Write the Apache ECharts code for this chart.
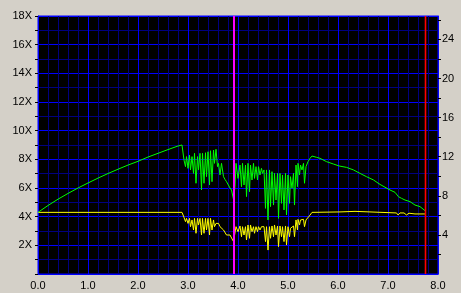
<!DOCTYPE html>
<html><head><meta charset="utf-8">
<script src="https://cdn.jsdelivr.net/npm/echarts@6/dist/echarts.min.js"></script>
<style>html,body{margin:0;padding:0;background:#d4d0c8;}#c{width:461px;height:293px;}</style>
</head><body><div id="c"></div>
<script>
// Position axis (GB) and tick/label values
const xLabelValues = [0, 1, 2, 3, 4, 5, 6, 7, 8];
const leftLabelValues = [2, 4, 6, 8, 10, 12, 14, 16, 18];
const rightLabelValues = [4, 8, 12, 16, 20, 24];
const rightTickValues = [2, 4, 6, 8, 10, 12, 14, 16, 18, 20, 22, 24, 26];
const markerPositions = [3.92, 7.75];
const markerColors = ['#ff00ff', '#ff0000'];
const markerWidths = [2, 1.6];

// Green: read speed (X)
const greenX = [0,0.2,0.4,0.6,0.8,1.0,1.2,1.4,1.6,1.8,2.0,2.2,2.4,2.6,2.8,2.88,
 2.92,2.95,2.97,3.00,3.03,3.05,3.08,3.11,3.13,3.16,3.19,3.21,3.24,3.27,3.29,3.32,3.35,3.37,3.40,3.43,3.45,3.48,3.51,3.53,3.56,3.59,
 3.61,3.64,3.67,3.71,3.74,3.77,3.81,3.84,3.87,3.91,
 3.94,3.96,4.00,4.04,4.07,4.09,4.12,4.15,4.17,4.20,4.23,4.25,4.28,4.31,4.33,4.36,4.39,4.41,4.44,4.47,4.49,4.52,4.55,4.57,4.60,4.63,4.65,4.68,4.71,4.73,4.76,4.79,4.81,4.84,4.87,4.89,4.92,4.95,4.97,5.00,5.03,5.05,5.08,5.11,5.13,5.16,5.19,5.20,5.23,5.25,5.28,5.31,5.33,5.36,5.40,5.44,5.48,
 5.51,5.57,5.64,5.77,5.91,6.03,6.17,6.31,6.44,6.57,6.71,6.84,7.04,7.14,7.21,7.24,7.27,7.34,7.44,7.54,7.64,7.74];
const greenY = [4.30,4.78,5.22,5.62,6.00,6.35,6.69,7.01,7.31,7.60,7.86,8.16,8.42,8.68,8.93,9.00,
 7.95,7.49,8.19,7.37,8.30,7.26,8.19,7.02,8.42,6.33,8.19,7.26,8.42,5.86,8.42,6.33,8.46,6.79,8.53,6.21,8.60,6.44,8.65,7.72,8.70,7.49,
 7.72,6.91,7.72,6.79,6.60,6.44,6.56,6.00,5.86,5.20,
 6.09,7.72,6.67,7.60,6.09,7.72,6.21,7.60,5.40,7.72,5.74,7.60,6.56,7.72,6.67,7.49,6.56,7.49,6.91,7.37,7.02,7.26,4.58,7.26,3.77,7.26,4.70,7.14,4.81,7.02,5.16,7.02,3.88,7.02,4.93,6.91,4.47,7.02,4.12,6.91,4.93,6.79,5.98,7.02,4.81,7.60,6.09,7.72,6.91,7.60,7.26,7.72,6.33,7.49,7.84,8.07,8.23,
 8.23,8.14,8.07,7.84,7.67,7.53,7.44,7.26,7.02,6.79,6.56,6.25,5.86,5.70,5.39,5.51,5.28,5.16,5.05,4.81,4.70,4.42];

// Yellow: second trace (X)
const yellowX = [0,2.88,2.92,2.95,2.97,3.00,3.03,3.05,3.08,3.11,3.13,3.16,3.19,3.21,3.24,3.27,3.29,3.32,3.35,3.37,3.40,3.43,3.45,3.48,3.51,3.53,3.56,3.59,
 3.61,3.64,3.67,3.71,3.74,3.77,3.81,3.84,3.87,3.91,
 3.94,3.96,4.00,4.04,4.07,4.09,4.12,4.15,4.17,4.20,4.23,4.25,4.28,4.31,4.33,4.36,4.39,4.41,4.44,4.47,4.49,4.52,4.55,4.57,4.60,4.63,4.65,4.68,4.71,4.73,4.76,4.79,4.81,4.84,4.87,4.89,4.92,4.95,4.97,5.00,5.03,5.05,5.08,5.11,5.13,5.16,5.19,5.20,5.23,5.25,5.28,5.31,5.33,5.36,5.40,5.44,5.48,
 5.51,6.04,6.05,6.34,6.35,7.17,7.20,7.24,7.28,7.32,7.37,7.42,7.46,7.54,7.74];
const yellowY = [4.30,4.30,3.95,3.65,3.88,3.53,3.88,3.30,3.77,3.07,3.88,2.84,3.88,3.42,3.88,2.72,3.88,2.84,3.88,3.07,3.88,2.72,3.88,3.07,3.77,3.30,3.53,3.42,
 3.53,3.30,3.42,3.07,3.19,2.72,2.84,2.72,2.72,2.26,
 2.37,3.30,2.95,3.35,2.60,3.30,2.72,3.30,2.37,3.42,2.49,3.42,2.95,3.30,2.84,3.30,2.95,3.30,3.07,3.30,3.19,3.30,2.26,3.30,1.67,3.30,2.49,3.35,2.60,3.42,2.72,3.35,1.91,3.35,2.60,3.30,2.26,3.35,2.02,3.30,2.60,3.19,3.07,3.35,2.60,3.77,3.07,3.81,3.42,3.77,3.65,3.81,3.30,3.77,3.88,4.11,4.30,
 4.33,4.33,4.37,4.37,4.26,4.26,4.12,4.26,4.14,4.26,4.12,4.24,4.19,4.19,4.19];

const greenData = greenX.map((x, i) => [x, greenY[i]]);
const yellowData = yellowX.map((x, i) => [x, yellowY[i]]);

const BRIGHT = '#0000ff', DIM = '#000080';
const font = {fontFamily: 'Liberation Sans', fontSize: 11, color: '#000'};

const markerSeries = markerPositions.map((x, i) => ({
  type: 'line', name: 'marker' + i, data: [[x, 0], [x, 9], [x, 18]], xAxisIndex: 0, yAxisIndex: 0,
  symbol: 'none', silent: true, z: 6, clip: false,
  lineStyle: {color: markerColors[i], width: markerWidths[i]},
  itemStyle: {color: markerColors[i]}
}));

const chart = echarts.init(document.getElementById('c'), null, {renderer: 'canvas'});
chart.setOption({
  animation: false,
  backgroundColor: '#d4d0c8',
  grid: {left: 38, right: 23, top: 16, bottom: 19, show: true, backgroundColor: '#000000',
         borderColor: BRIGHT, borderWidth: 1, containLabel: false},
  xAxis: {
    type: 'value', min: 0, max: 8, interval: 0.2,
    axisLine: {show: true, lineStyle: {color: BRIGHT, width: 1}},
    axisTick: {show: false},
    axisLabel: Object.assign({customValues: xLabelValues, margin: 6, formatter: v => v.toFixed(1)}, font),
    splitLine: {show: true, lineStyle: {color: [BRIGHT, DIM, DIM, DIM, DIM], width: 1}}
  },
  yAxis: [{
    type: 'value', min: 0, max: 18, interval: 1, position: 'left',
    axisLine: {show: true, lineStyle: {color: BRIGHT, width: 1}},
    axisTick: {show: true, length: 3, lineStyle: {color: '#000'}},
    axisLabel: Object.assign({customValues: leftLabelValues, margin: 6, formatter: v => v + 'X'}, font),
    splitLine: {show: true, lineStyle: {color: [BRIGHT, DIM], width: 1}}
  }, {
    type: 'value', min: 0, max: 26.4, position: 'right',
    axisLine: {show: true, lineStyle: {color: BRIGHT, width: 1}},
    axisTick: {show: true, length: 3, customValues: rightTickValues, lineStyle: {color: '#000'}},
    axisLabel: Object.assign({customValues: rightLabelValues, margin: 4}, font),
    splitLine: {show: false}
  }],
  series: [{
    type: 'line', name: 'yellow', data: yellowData, xAxisIndex: 0, yAxisIndex: 0,
    symbol: 'none', lineStyle: {color: '#ffff00', width: 1}, itemStyle: {color: '#ffff00'}, z: 3
  }, {
    type: 'line', name: 'green', data: greenData, xAxisIndex: 0, yAxisIndex: 0,
    symbol: 'none', lineStyle: {color: '#00ff00', width: 1}, itemStyle: {color: '#00ff00'}, z: 4
  }].concat(markerSeries)
});
</script></body></html>
